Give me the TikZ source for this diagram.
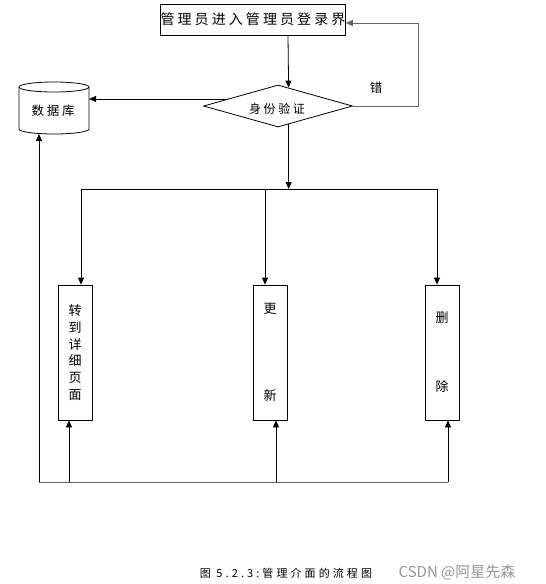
\documentclass[tikz,border=0pt]{standalone}
\usepackage{fontspec}
\setmainfont{Noto Sans CJK SC}
\newfontfamily\fsA[LetterSpace=22]{Noto Sans CJK SC}
\newfontfamily\fsC[LetterSpace=28]{Noto Sans CJK SC}
\usetikzlibrary{shapes.geometric,arrows.meta}
\definecolor{loopgray}{RGB}{100,100,100}
\definecolor{wmgray}{RGB}{150,150,150}
\begin{document}
\begin{tikzpicture}[x=1pt,y=-1pt,
  line/.style={draw=black,line width=0.8pt},
  arr/.style={line,-{Triangle[length=7pt,width=6pt]}},
  garr/.style={draw=loopgray,line width=1pt,-{Triangle[length=7pt,width=6pt]}},
  gline/.style={draw=loopgray,line width=1pt},
  box/.style={line,inner sep=0pt},
  vbox/.style={box,minimum width=34pt,minimum height=135pt,align=center,
     font=\fontsize{13}{16.7}\selectfont},
  dia/.style={diamond,line,inner sep=0pt,minimum width=149pt,minimum height=42pt,aspect=3.5}]
\useasboundingbox (0,0) rectangle (546,584);
% top box
\node[box,minimum width=184pt,minimum height=31pt] (top) at (253,19.5)
  {\fsA\fontsize{14}{15}\selectfont 管理员进入管理员登录界};
% diamond
\node[dia] (dia) at (278,106) {};
\node (diat) at (277,109) {\fsA\fontsize{12}{14}\selectfont 身份验证};
% database cylinder
\draw[line] (54,87) ellipse [x radius=35, y radius=5];
\draw[line] (19,87) -- (19,129) arc[start angle=180,end angle=0,x radius=35,y radius=5] -- (89,87);
\node[inner sep=0pt,minimum width=70pt,minimum height=30pt] (db) at (53,111)
  {\fsA\fontsize{12.5}{14}\selectfont 数据库};
\coordinate (dbe) at (89,100);
\coordinate (dbb) at (39,134);
% boxes
\node[vbox] (b1) at (75,352.5) {转\\到\\详\\细\\页\\面};
\node[vbox] (b2) at (270,352.5) {更\\[71pt]新};
\node[vbox] (b3) at (442,352.5) {删\\[52pt]除};
% helper coordinates
\coordinate (dx) at (288,0);
\coordinate (rr) at (418,23);
\coordinate (hl) at (81,189);
\coordinate (hm) at (265,189);
\coordinate (hr) at (437,189);
\coordinate (bl) at (39,482);
\coordinate (bb1) at (69,482);
\coordinate (bb2) at (276,482);
\coordinate (bb3) at (448,482);
% connectors
\draw[arr] (top.south -| dx) -- (dia.60);
\draw[arr] (dia.172) -- (dia.172 -| dbe);
\draw[garr] (dia.east) -- (dia.east -| rr) -- (rr) -- (rr -| top.east);
\node (err) at (376,88) {\fontsize{12.5}{14}\selectfont 错};
\draw[arr] (dia.-60) -- (dia.-60 |- hl);
\draw[line] (hl) -- (hr);
\draw[arr] (hl) -- (hl |- b1.north);
\draw[arr] (hm) -- (hm |- b2.north);
\draw[arr] (hr) -- (hr |- b3.north);
\draw[gline] (bl) -- (bb3);
\draw[arr] (bl) -- (dbb);
\draw[arr] (bb1) -- (bb1 |- b1.south);
\draw[arr] (bb2) -- (bb2 |- b2.south);
\draw[arr] (bb3) -- (bb3 |- b3.south);
% caption
\node (cap) at (286,573) {\fsC\fontsize{11}{12}\selectfont 图 5.2.3:管理介面的流程图};
\node[text=wmgray] (wm) at (457,572) {\fontsize{15}{17}\selectfont CSDN @阿星先森};
\end{tikzpicture}
\end{document}
